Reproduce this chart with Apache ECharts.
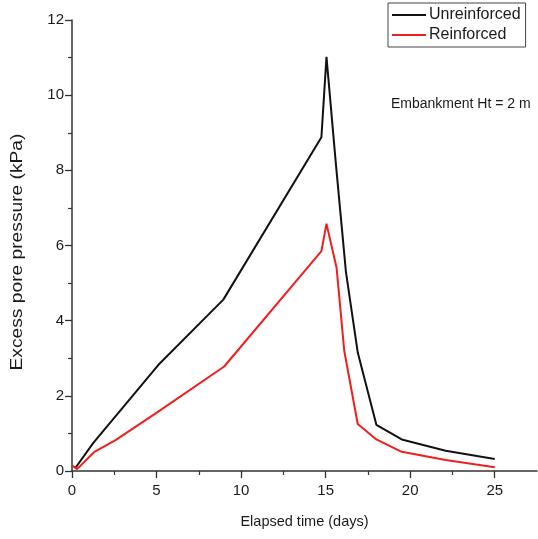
<!DOCTYPE html>
<html>
<head>
<meta charset="utf-8">
<script src="https://cdn.jsdelivr.net/npm/echarts@6/dist/echarts.min.js"></script>
<style>
html,body{margin:0;padding:0;background:#fff;}
#chart{width:538px;height:539px;}
</style>
</head>
<body>
<div id="chart"></div>
<script>
// Data
const seriesNames = ['Unreinforced', 'Reinforced'];
const unreinforcedX = [0.2, 1.25, 5.1, 8.95, 14.75, 15.05, 15.6, 16.2, 16.9, 18.0, 19.5, 22.1, 25.0];
const unreinforcedY = [0.08, 0.74, 2.82, 4.56, 8.88, 11.02, 8.2, 5.3, 3.15, 1.23, 0.84, 0.54, 0.32];
const reinforcedX = [0.0, 0.3, 1.3, 2.6, 5.1, 9.0, 14.75, 15.05, 15.65, 16.1, 16.9, 18.0, 19.5, 22.1, 25.0];
const reinforcedY = [0.15, 0.05, 0.5, 0.83, 1.58, 2.78, 5.85, 6.58, 5.4, 3.2, 1.25, 0.84, 0.51, 0.29, 0.1];
const xTickLabels = [0, 5, 10, 15, 20, 25];
const yTickLabels = [0, 2, 4, 6, 8, 10, 12];
const xAxisTitle = 'Elapsed time (days)';
const yAxisTitle = 'Excess pore pressure (kPa)';
const annotation = 'Embankment Ht = 2 m';

const pair = (xs, ys) => xs.map((x, i) => [x, ys[i]]);
const font = 'Liberation Sans, Arial, sans-serif';
const textColor = '#1a1a1a';

const chart = echarts.init(document.getElementById('chart'), null, {renderer: 'canvas'});
chart.setOption({
  animation: false,
  backgroundColor: '#fff',
  grid: {left: 72, right: 1, top: 20, bottom: 68, containLabel: false},
  xAxis: {
    type: 'value', min: 0, max: 27.5, interval: 5,
    name: xAxisTitle, nameLocation: 'middle', nameGap: 43,
    nameTextStyle: {fontFamily: font, fontSize: 14.5, color: textColor},
    axisLine: {show: true, onZero: false, lineStyle: {color: '#333', width: 1.5}},
    axisTick: {show: true, inside: false, length: 7, lineStyle: {color: '#333', width: 1.3}, customValues: xTickLabels},
    minorTick: {show: true, splitNumber: 2, length: 4, lineStyle: {color: '#333', width: 1.2}},
    axisLabel: {fontFamily: font, fontSize: 15, color: textColor, margin: 12, customValues: xTickLabels,
      formatter: v => (xTickLabels.indexOf(v) >= 0 ? String(v) : '')},
    splitLine: {show: false}
  },
  yAxis: {
    type: 'value', min: 0, max: 12, interval: 2,
    axisLine: {show: true, onZero: false, lineStyle: {color: '#333', width: 1.5}},
    axisTick: {show: true, inside: false, length: 7, lineStyle: {color: '#333', width: 1.3}},
    minorTick: {show: true, splitNumber: 2, length: 4, lineStyle: {color: '#333', width: 1.2}},
    axisLabel: {fontFamily: font, fontSize: 15, color: textColor, margin: 8,
      formatter: v => (yTickLabels.indexOf(v) >= 0 ? String(v) : '')},
    splitLine: {show: false}
  },
  legend: {
    orient: 'vertical', left: 388, top: 3,
    data: seriesNames,
    icon: 'rect',
    itemWidth: 34, itemHeight: 2, itemGap: 4,
    padding: [4, 5, 4, 4],
    borderColor: '#444', borderWidth: 1,
    textStyle: {fontFamily: font, fontSize: 16, color: textColor, padding: [0, 0, 0, -2], lineHeight: 16}
  },
  graphic: [
    {
      type: 'text', left: 391, top: 97,
      style: {text: annotation, font: '14px ' + font, fill: textColor}
    },
    {
      type: 'text', x: 18, y: 252, rotation: Math.PI / 2, scaleX: 1.2,
      style: {text: yAxisTitle, font: '16px ' + font, fill: textColor, align: 'center', verticalAlign: 'middle'}
    }
  ],
  series: [
    {name: seriesNames[0], type: 'line', data: pair(unreinforcedX, unreinforcedY),
     symbol: 'none', lineStyle: {color: '#111', width: 2}, itemStyle: {color: '#111'}},
    {name: seriesNames[1], type: 'line', data: pair(reinforcedX, reinforcedY),
     symbol: 'none', lineStyle: {color: '#ee1f1f', width: 2}, itemStyle: {color: '#ee1f1f'}}
  ]
});
</script>
</body>
</html>
